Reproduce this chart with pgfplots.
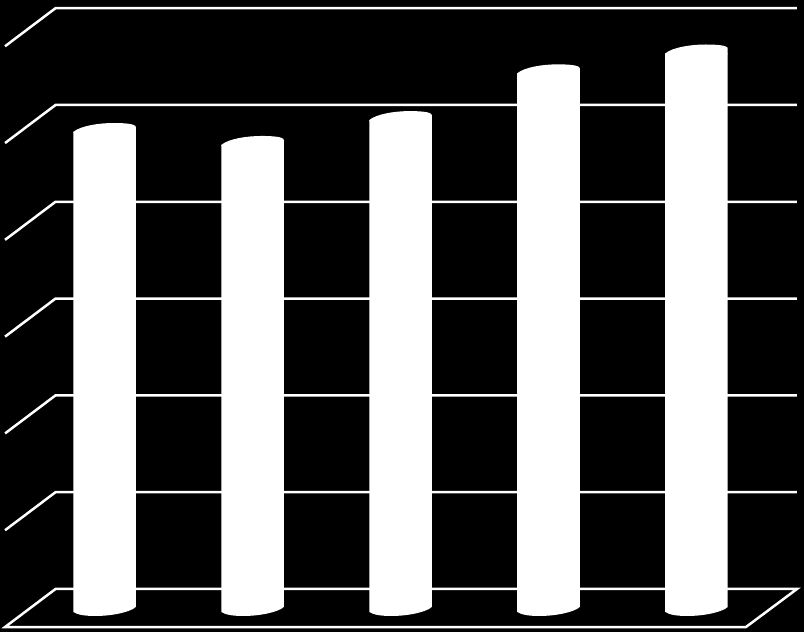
\documentclass[border=0pt]{standalone}
\usepackage{pgfplots}
\pgfplotsset{compat=1.18}
\pgfdeclareplotmark{captop}{%
  \pgfpathmoveto{\pgfqpoint{-31.25pt}{-1pt}}%
  \pgfpathlineto{\pgfqpoint{-31.25pt}{0pt}}%
  \pgfpathcurveto{\pgfqpoint{-24pt}{6.3pt}}{\pgfqpoint{-5pt}{9pt}}{\pgfqpoint{9pt}{9pt}}%
  \pgfpathcurveto{\pgfqpoint{18pt}{9pt}}{\pgfqpoint{31.25pt}{8.5pt}}{\pgfqpoint{31.25pt}{5pt}}%
  \pgfpathlineto{\pgfqpoint{31.25pt}{-1pt}}%
  \pgfpathclose\pgfusepath{fill}}
\pgfdeclareplotmark{capbottom}{%
  \pgfpathmoveto{\pgfqpoint{-31.25pt}{0pt}}%
  \pgfpathlineto{\pgfqpoint{-31.25pt}{-5pt}}%
  \pgfpathcurveto{\pgfqpoint{-27pt}{-8pt}}{\pgfqpoint{-18pt}{-9pt}}{\pgfqpoint{-9.5pt}{-9pt}}%
  \pgfpathcurveto{\pgfqpoint{8pt}{-9pt}}{\pgfqpoint{26pt}{-5pt}}{\pgfqpoint{31.25pt}{0pt}}%
  \pgfpathclose\pgfusepath{fill}}
\pgfplotstableread{
x v
0 4.907
1 4.773
2 5.03
3 5.513
4 5.718
}\bars
\begin{document}
\begin{tikzpicture}
\begin{axis}[
  scale only axis,
  width=804pt,
  height=632pt,
  xmin=-0.7061, xmax=4.7264,
  ymin=-0.2583, ymax=6.2707,
  axis line style={draw=none},
  ticks=none,
  clip=true,
  axis background/.style={fill=black},
  gridline/.style={white, line width=2.5pt, line join=miter, no markers},
]
% walls, each one front corner - back corner - right end
\addplot[gridline] coordinates {(-0.672,0.793) (-0.331,1.186) (4.679,1.186)};
\addplot[gridline] coordinates {(-0.672,1.793) (-0.331,2.186) (4.679,2.186)};
\addplot[gridline] coordinates {(-0.672,2.793) (-0.331,3.186) (4.679,3.186)};
\addplot[gridline] coordinates {(-0.672,3.793) (-0.331,4.186) (4.679,4.186)};
\addplot[gridline] coordinates {(-0.672,4.793) (-0.331,5.186) (4.679,5.186)};
\addplot[gridline] coordinates {(-0.672,5.793) (-0.331,6.186) (4.679,6.186)};
% floor
\addplot[gridline] coordinates {(-0.672,-0.207) (-0.331,0.186) (4.679,0.186) (4.334,-0.207)} -- cycle;
% bars
\addplot[ybar, bar width=62.5pt, fill=white, draw=none] table[x=x, y=v] {\bars};
\addplot[only marks, mark=captop, mark options={fill=white, draw=none}] table[x=x, y=v] {\bars};
\addplot[only marks, mark=capbottom, mark options={fill=white, draw=none}] coordinates {(0,0) (1,0) (2,0) (3,0) (4,0)};
\end{axis}
\end{tikzpicture}
\end{document}
